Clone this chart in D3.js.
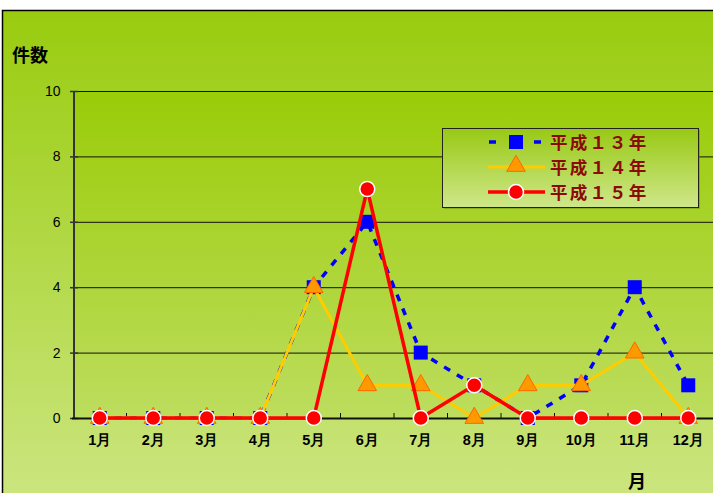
<!DOCTYPE html>
<html><head><meta charset="utf-8">
<script src="https://cdn.jsdelivr.net/npm/d3@7"></script>
<style>body{margin:0;overflow:hidden;background:#fff}</style>
</head><body>
<svg id="c" width="713" height="493"></svg>
<script>
const months = ["1月","2月","3月","4月","5月","6月","7月","8月","9月","10月","11月","12月"];
const seriesNames = ["平成１３年","平成１４年","平成１５年"];
const h13 = [0,0,0,0,4,6,2,1,0,1,4,1];
const h14 = [0,0,0,0,4,1,1,0,1,1,2,0];
const h15 = [0,0,0,0,0,7,0,1,0,0,0,0];
const yTicks = [0,2,4,6,8,10];

const svg = d3.select("#c");
const defs = svg.append("defs");
function grad(id, c1, c2){
  const g = defs.append("linearGradient").attr("id", id).attr("x1",0).attr("y1",0).attr("x2",0).attr("y2",1);
  g.append("stop").attr("offset","0%").attr("stop-color",c1);
  g.append("stop").attr("offset","100%").attr("stop-color",c2);
}
grad("bg","#99cc0f","#cde682");
grad("plot","#9acc08","#bddd5e");
grad("leg","#98c915","#cfe78a");

svg.append("rect").attr("x",0).attr("y",0).attr("width",713).attr("height",10).attr("fill","#fff");
svg.append("rect").attr("x",2.5).attr("y",10.5).attr("width",720).attr("height",500)
  .attr("fill","url(#bg)").attr("stroke","#000").attr("stroke-width",1.5);

const x = d3.scaleBand().domain(months).range([73, 715]);
const y = d3.scaleLinear().domain([0,10]).range([418, 91]);

svg.append("rect").attr("x",73).attr("y",91).attr("width",650).attr("height",327).attr("fill","url(#plot)");

svg.append("g").selectAll("line").data(yTicks.filter(d=>d>0)).join("line")
  .attr("x1",73).attr("x2",713).attr("y1",d=>y(d)+0.5).attr("y2",d=>y(d)+0.5)
  .attr("stroke","#111").attr("stroke-width",1);

const yAxis = d3.axisLeft(y).tickValues(yTicks).tickSize(0).tickPadding(13).tickFormat(d3.format("d"));
const gy = svg.append("g").attr("transform","translate(73.5,0)").call(yAxis);
gy.select(".domain").attr("stroke","#333").attr("stroke-width",2);
gy.selectAll("text").attr("font-family","Liberation Sans, Arial, sans-serif").attr("font-size",14).attr("fill","#000");
svg.append("g").selectAll("line").data(yTicks).join("line")
  .attr("x1",70).attr("x2",78).attr("y1",d=>y(d)+0.5).attr("y2",d=>y(d)+0.5)
  .attr("stroke","#333").attr("stroke-width",1.5);

svg.append("line").attr("x1",72).attr("x2",713).attr("y1",418.5).attr("y2",418.5).attr("stroke","#111").attr("stroke-width",2);
const bounds = months.map((m,i)=>x(m)).concat([x(months[11])+x.bandwidth()]);
svg.append("g").selectAll("line").data(bounds.slice(1)).join("line")
  .attr("x1",d=>d).attr("x2",d=>d).attr("y1",413).attr("y2",418)
  .attr("stroke","#111").attr("stroke-width",1);
svg.append("g").selectAll("text").data(months).join("text")
  .attr("x",d=>x(d)+x.bandwidth()/2).attr("y",445).attr("text-anchor","middle")
  .attr("font-family","Liberation Sans, Arial, sans-serif").attr("font-weight","bold").attr("font-size",14.5)
  .text(d=>d);

svg.append("text").attr("x",12).attr("y",62).attr("font-family","Noto Sans CJK JP").attr("font-weight","bold").attr("font-size",18).text("件数");
svg.append("text").attr("x",628).attr("y",488).attr("font-family","Noto Sans CJK JP").attr("font-weight","bold").attr("font-size",18).text("月");

const line = d3.line().x((d,i)=>x(months[i])+x.bandwidth()/2).y(d=>y(d));
const cx = i => x(months[i])+x.bandwidth()/2;

svg.append("path").datum(h13).attr("d",line).attr("fill","none").attr("stroke","#0000ff").attr("stroke-width",3.5).attr("stroke-dasharray","7,8");
svg.append("g").selectAll("rect").data(h13).join("rect")
  .attr("x",(d,i)=>cx(i)-7).attr("y",d=>y(d)-7).attr("width",14).attr("height",14).attr("fill","#0000ff");
const tri = d3.symbol().type(d3.symbolTriangle).size(150);
svg.append("path").datum(h14).attr("d",line).attr("fill","none").attr("stroke","#ffcc00").attr("stroke-width",3);
svg.append("g").selectAll("path").data(h14).join("path")
  .attr("d",tri).attr("transform",(d,i)=>`translate(${cx(i)},${y(d)})`)
  .attr("fill","#ff9900").attr("stroke","#ff6600").attr("stroke-width",1);
svg.append("path").datum(h15).attr("d",line).attr("fill","none").attr("stroke","#ff0000").attr("stroke-width",3.5);
svg.append("g").selectAll("circle").data(h15).join("circle")
  .attr("cx",(d,i)=>cx(i)).attr("cy",d=>y(d)).attr("r",7.5)
  .attr("fill","#ff0000").attr("stroke","#fff").attr("stroke-width",1.5);

const lg = svg.append("g");
lg.append("rect").attr("x",444).attr("y",130).attr("width",256).attr("height",79).attr("fill","#6a8a10").attr("opacity",0.5);
lg.append("rect").attr("x",442.5).attr("y",128.5).attr("width",256).attr("height",79).attr("fill","url(#leg)").attr("stroke","#222").attr("stroke-width",1);
const rows = [142,167,192];
lg.append("line").attr("x1",489).attr("x2",545).attr("y1",rows[0]).attr("y2",rows[0]).attr("stroke","#0000ff").attr("stroke-width",3.5).attr("stroke-dasharray","7,15.5");
lg.append("rect").attr("x",509).attr("y",rows[0]-7).attr("width",14).attr("height",14).attr("fill","#0000ff");
lg.append("line").attr("x1",488).attr("x2",545).attr("y1",rows[1]).attr("y2",rows[1]).attr("stroke","#ffcc00").attr("stroke-width",3);
lg.append("path").attr("d",tri).attr("transform",`translate(516,${rows[1]-1})`).attr("fill","#ff9900").attr("stroke","#ff6600");
lg.append("line").attr("x1",488).attr("x2",545).attr("y1",rows[2]).attr("y2",rows[2]).attr("stroke","#ff0000").attr("stroke-width",3.5);
lg.append("circle").attr("cx",516).attr("cy",rows[2]).attr("r",7.5).attr("fill","#ff0000").attr("stroke","#fff").attr("stroke-width",1.5);
lg.selectAll("text.l").data(seriesNames).join("text").attr("class","l")
  .attr("x",550).attr("y",(d,i)=>rows[i]+6.5).attr("fill","#8b0a0a")
  .attr("font-family","Noto Sans CJK JP").attr("font-weight","bold").attr("font-size",17.5).attr("letter-spacing",2.2)
  .text(d=>d);
</script>
</body></html>
